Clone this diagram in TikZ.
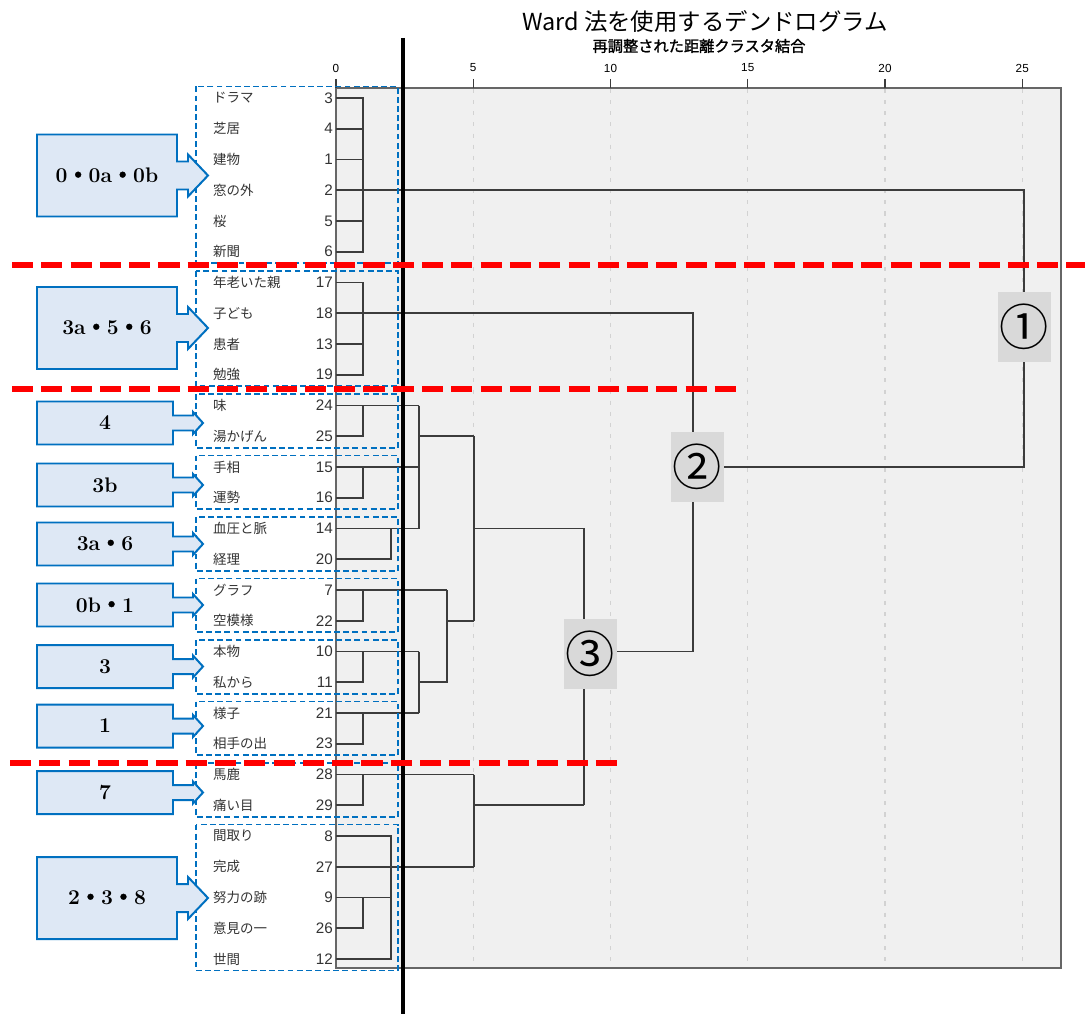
\documentclass[tikz,border=0pt]{standalone}
\usepackage{fontspec}
\newfontfamily\jp{Noto Sans CJK JP}
\newfontfamily\jpbold[FakeBold=1.5]{Noto Sans CJK JP}
\newfontfamily\arial{Liberation Sans}
\usetikzlibrary{positioning}

\definecolor{plotgray}{HTML}{F0F0F0}
\definecolor{boxblue}{HTML}{0070C0}
\definecolor{calloutfill}{HTML}{DEE8F5}
\definecolor{dendro}{HTML}{3C3C3C}
\definecolor{numgray}{HTML}{D9D9D9}
\definecolor{gridgray}{HTML}{D2D2D2}

\newcommand{\ry}[1]{98+30.75*#1}% 行のy座標

\tikzset{
  leaf/.style={anchor=west, inner sep=0, font=\jp\fontsize{11.5}{12}\selectfont, text=black!80},
  leafno/.style={anchor=east, inner sep=0, font=\arial\fontsize{13}{14}\selectfont, text=black!80},
  den/.style={draw=dendro, line width=1.3pt},
  grp/.style={draw=boxblue, line width=1.6pt, dash pattern=on 5pt off 2.8pt},
  cutline/.style={draw=red, line width=5pt, dash pattern=on 18pt off 7pt},
  callout/.style={draw=boxblue, fill=calloutfill, line width=1.7pt},
  calltext/.style={inner sep=0, font=\bfseries\fontsize{18}{20}\selectfont},
  numbox/.style={fill=numgray, inner sep=0, minimum width=1.59cm, minimum height=2.1cm, font=\jp\fontsize{42}{44}\selectfont},
  gridline/.style={draw=gridgray, line width=1.2pt, dash pattern=on 3.5pt off 6pt}
}

% 大きい矢印ボックス
\newcommand{\bigcallout}[3]{%
  \draw[callout](37,#2-41)--(177,#2-41)--(177,#2-14)--(188,#2-14)--(188,#2-21)--(208,#2)--(188,#2+21)--(188,#2+14)--(177,#2+14)--(177,#2+41)--(37,#2+41)--cycle;
  \node[calltext](#1) at (107,#2){#3};}
% 小さい矢印ボックス
\newcommand{\smallcallout}[3]{%
  \draw[callout](37,#2-21.5)--(173,#2-21.5)--(173,#2-7.5)--(193,#2-7.5)--(193,#2-11)--(203,#2)--(193,#2+11)--(193,#2+7.5)--(173,#2+7.5)--(173,#2+21.5)--(37,#2+21.5)--cycle;
  \node[calltext](#1) at (105,#2){#3};}

\newcommand{\nakaguro}{{\jpbold ・}}

\begin{document}
\begin{tikzpicture}[x=0.03cm, y=-0.03cm]
  \useasboundingbox (0,0) rectangle (1085,1014);

  %タイトル
  \node[font=\jp\fontsize{20}{22}\selectfont](title) at (705,22){Ward 法を使用するデンドログラム};
  \node[font=\jpbold\fontsize{13}{14}\selectfont](subtitle) at (699,46){再調整された距離クラスタ結合};

  %グラフの枠
  \fill[plotgray](336,88) rectangle (1061,968);
  \draw[gray!80!black, line width=1pt](336,88) rectangle (1061,968);
  \foreach \v in {5,10,...,25}
    \draw[gridline]({336+27.45*\v},89)--({336+27.45*\v},967);
  \foreach \v in {0,5,...,25}{
    \draw[dendro, line width=1pt]({336+27.45*\v},79)--({336+27.45*\v},88);
    \node[font=\arial\fontsize{10}{11}\selectfont](ax\v) at ({336+27.45*\v},68){\v};
  }

  %デンドログラム
  \draw[den](336,{\ry{0}})-|(363,{\ry{5}})--(336,{\ry{5}});
  \foreach \i in {1,2,4} \draw[den](336,{\ry{\i}})--(363,{\ry{\i}});
  \draw[den](336,{\ry{3}})-|(1024,467)--(693,467);
  \draw[den](336,{\ry{6}})-|(363,{\ry{9}})--(336,{\ry{9}});
  \draw[den](336,{\ry{8}})--(363,{\ry{8}});
  \draw[den](336,{\ry{7}})-|(693,{\ry{18}})--(584,{\ry{18}});

  \draw[den](419,{\ry{10}})--(336,{\ry{10}}) (363,{\ry{10}})|-(336,{\ry{11}});
  \draw[den](419,{\ry{12}})--(336,{\ry{12}}) (363,{\ry{12}})|-(336,{\ry{13}});
  \draw[den](419,{\ry{14}})--(336,{\ry{14}}) (391,{\ry{14}})|-(336,{\ry{15}});
  \draw[den](419,{\ry{10}})--(419,{\ry{14}}) (419,{\ry{11}})--(474,{\ry{11}});
  \draw[den](447,{\ry{16}})--(336,{\ry{16}}) (363,{\ry{16}})|-(336,{\ry{17}});
  \draw[den](419,{\ry{18}})--(336,{\ry{18}}) (363,{\ry{18}})|-(336,{\ry{19}});
  \draw[den](419,{\ry{20}})--(336,{\ry{20}}) (363,{\ry{20}})|-(336,{\ry{21}});
  \draw[den](419,{\ry{18}})--(419,{\ry{20}}) (419,{\ry{19}})-|(447,{\ry{16}});
  \draw[den](447,{\ry{17}})--(474,{\ry{17}});
  \draw[den](474,{\ry{11}})--(474,{\ry{17}}) (474,{\ry{14}})-|(584,{\ry{23}});
  \draw[den](474,{\ry{22}})--(336,{\ry{22}}) (363,{\ry{22}})|-(336,{\ry{23}});
  \draw[den](391,{\ry{26}})--(336,{\ry{26}}) (363,{\ry{26}})|-(336,{\ry{27}});
  \draw[den](336,{\ry{24}})-|(391,{\ry{28}})--(336,{\ry{28}});
  \draw[den](336,{\ry{25}})--(474,{\ry{25}}) (474,{\ry{22}})--(474,{\ry{25}}) (474,{\ry{23}})--(584,{\ry{23}});

  %番号
  \node[numbox](m1) at (1024,327){①};
  \node[numbox](m2) at (697,467){②};
  \node[numbox](m3) at (590,654){③};

  %点線の枠
  \foreach \a/\b in {0/5,6/9,10/11,12/13,14/15,16/17,18/19,20/21,22/23,24/28}
    \draw[grp](196,{\ry{\a}-11.5}) rectangle (398,{\ry{\b}+11.5});

  %ラベル
  \foreach \lab/\num [count=\i from 0] in {ドラマ/3,芝居/4,建物/1,窓の外/2,桜/5,新聞/6,年老いた親/17,子ども/18,患者/13,勉強/19,味/24,湯かげん/25,手相/15,運勢/16,血圧と脈/14,経理/20,グラフ/7,空模様/22,本物/10,私から/11,様子/21,相手の出/23,馬鹿/28,痛い目/29,間取り/8,完成/27,努力の跡/9,意見の一/26,世間/12}{
    \node[leaf](t\num) at (213,{\ry{\i}}){\lab};
    \node[leafno](n\num) at (333,{\ry{\i}}){\num};
  }

  %矢印ボックス
  \bigcallout{c0}{175.5}{0\nakaguro 0a\nakaguro 0b}
  \bigcallout{c3a}{328}{3a\nakaguro 5\nakaguro 6}
  \smallcallout{c4}{423}{4}
  \smallcallout{c3b}{485}{3b}
  \smallcallout{c3a6}{544}{3a\nakaguro 6}
  \smallcallout{c0b}{605}{0b\nakaguro 1}
  \smallcallout{c3}{666.5}{3}
  \smallcallout{c1}{726}{1}
  \smallcallout{c7}{792.5}{7}
  \bigcallout{c2}{898}{2\nakaguro 3\nakaguro 8}

  %区切り線
  \draw[line width=3.5pt](403,38)--(403,1014);
  \draw[cutline](12,265)--(1085,265);
  \draw[cutline](12,389)--(740,389);
  \draw[cutline](10,763)--(625,763);
\end{tikzpicture}
\end{document}
